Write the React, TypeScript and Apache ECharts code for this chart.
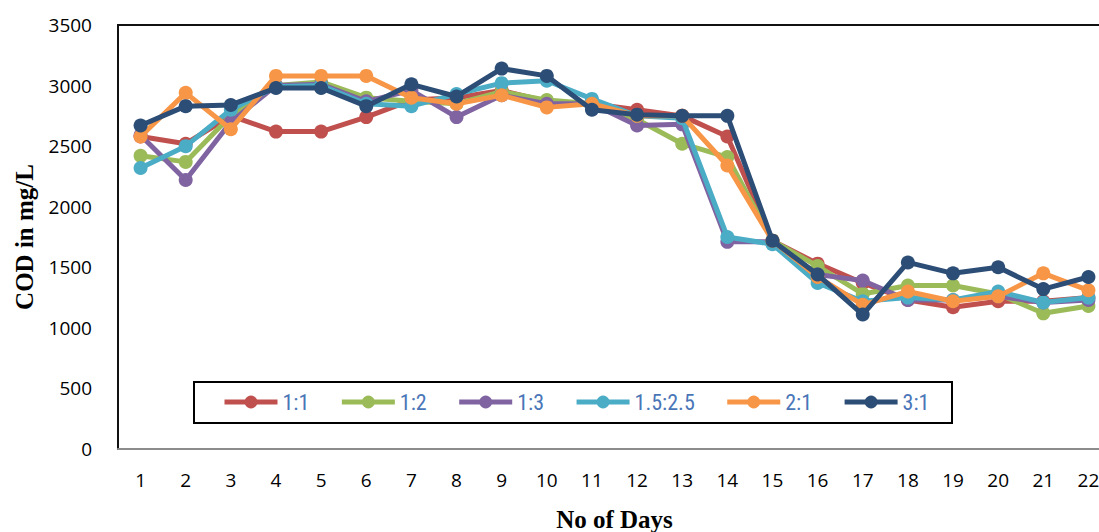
import React, { useEffect, useRef } from "react";
import * as echarts from "echarts";

const days = ["1","2","3","4","5","6","7","8","9","10","11","12","13","14","15","16","17","18","19","20","21","22"];

const s11 = [2580, 2520, 2750, 2620, 2620, 2740, 2880, 2900, 2960, 2870, 2850, 2800, 2750, 2580, 1720, 1530, 1370, 1230, 1170, 1220, 1220, 1250];
const s12 = [2420, 2370, 2750, 3000, 3030, 2900, 2870, 2850, 2950, 2880, 2850, 2720, 2520, 2410, 1720, 1510, 1280, 1350, 1350, 1280, 1120, 1180];
const s13 = [2590, 2220, 2700, 3000, 3010, 2870, 2960, 2740, 2920, 2850, 2850, 2670, 2680, 1710, 1710, 1440, 1390, 1230, 1230, 1260, 1210, 1230];
const s1525 = [2320, 2500, 2800, 2990, 3000, 2850, 2830, 2930, 3020, 3040, 2890, 2750, 2730, 1750, 1690, 1370, 1220, 1250, 1230, 1300, 1210, 1250];
const s21 = [2580, 2940, 2640, 3080, 3080, 3080, 2900, 2850, 2920, 2820, 2850, 2750, 2750, 2340, 1720, 1420, 1190, 1300, 1220, 1260, 1450, 1310];
const s31 = [2670, 2830, 2840, 2980, 2980, 2830, 3010, 2910, 3140, 3080, 2800, 2760, 2750, 2750, 1720, 1440, 1110, 1540, 1450, 1500, 1320, 1420];

const seriesNames = ["1:1", "1:2", "1:3", "1.5:2.5", "2:1", "3:1"];
const seriesData = [s11, s12, s13, s1525, s21, s31];
const colors = ["#C0504D", "#9BBB59", "#8064A2", "#4BACC6", "#F79646", "#2C4D75"];

export default function App() {
  const ref = useRef<HTMLDivElement>(null);
  useEffect(() => {
    document.body.style.margin = "0";
    const chart = echarts.init(ref.current!, null, { renderer: "svg" });
    chart.setOption({
      animation: false,
      backgroundColor: "#ffffff",
      grid: { left: 118, top: 25, width: 993, height: 424, containLabel: false, outerBoundsMode: "none" },
      graphic: [
        {
          type: "rect",
          shape: { x: 194, y: 382, width: 758, height: 41 },
          style: { fill: "#ffffff", stroke: "#000000", lineWidth: 2 },
          z: 0,
        },
        {
          type: "line",
          shape: { x1: 117, y1: 25, x2: 1099, y2: 25 },
          style: { stroke: "#111111", lineWidth: 2 },
          z: 1,
        },
      ],
      legend: {
        left: 217,
        top: 386,
        itemWidth: 53,
        itemHeight: 16,
        itemGap: 30,
        data: seriesNames,
        lineStyle: { width: 5 },
        textStyle: {
          color: "#4A76B8",
          fontSize: 22,
          fontFamily: "'Liberation Sans Narrow', 'Roboto Condensed', 'Liberation Sans', sans-serif",
        },
        z: 5,
      },
      xAxis: {
        type: "category",
        data: days,
        boundaryGap: true,
        name: "No of Days",
        nameLocation: "middle",
        nameGap: 58,
        nameTextStyle: {
          fontFamily: "'Liberation Serif', serif",
          fontWeight: "bold",
          fontSize: 25,
          color: "#000",
        },
        axisLine: { lineStyle: { color: "#8c8c8c", width: 2 } },
        axisTick: { show: false },
        axisLabel: {
          color: "#000",
          fontSize: 19,
          fontFamily: "'Open Sans', sans-serif",
          margin: 21,
        },
      },
      yAxis: {
        type: "value",
        min: 0,
        max: 3500,
        interval: 500,
        name: "COD in mg/L",
        nameLocation: "middle",
        nameGap: 81,
        nameRotate: 90,
        nameTextStyle: {
          fontFamily: "'Liberation Serif', serif",
          fontWeight: "bold",
          fontSize: 25,
          color: "#000",
        },
        axisLine: { show: true, lineStyle: { color: "#111111", width: 2 } },
        axisTick: { show: false },
        splitLine: { show: false },
        axisLabel: {
          color: "#000",
          fontSize: 19,
          fontFamily: "'Open Sans', sans-serif",
          margin: 26,
          formatter: (v: number) => String(v),
        },
      },
      series: seriesNames.map((name, i) => ({
        name,
        type: "line",
        data: seriesData[i],
        symbol: "circle",
        symbolSize: 14,
        color: colors[i],
        lineStyle: { width: 5, color: colors[i] },
        itemStyle: { color: colors[i] },
        z: 2 + i,
      })),
    });
    return () => chart.dispose();
  }, []);
  return (
    <div
      ref={ref}
      style={{ position: "fixed", left: 0, top: 0, width: 1099, height: 532 }}
    />
  );
}
